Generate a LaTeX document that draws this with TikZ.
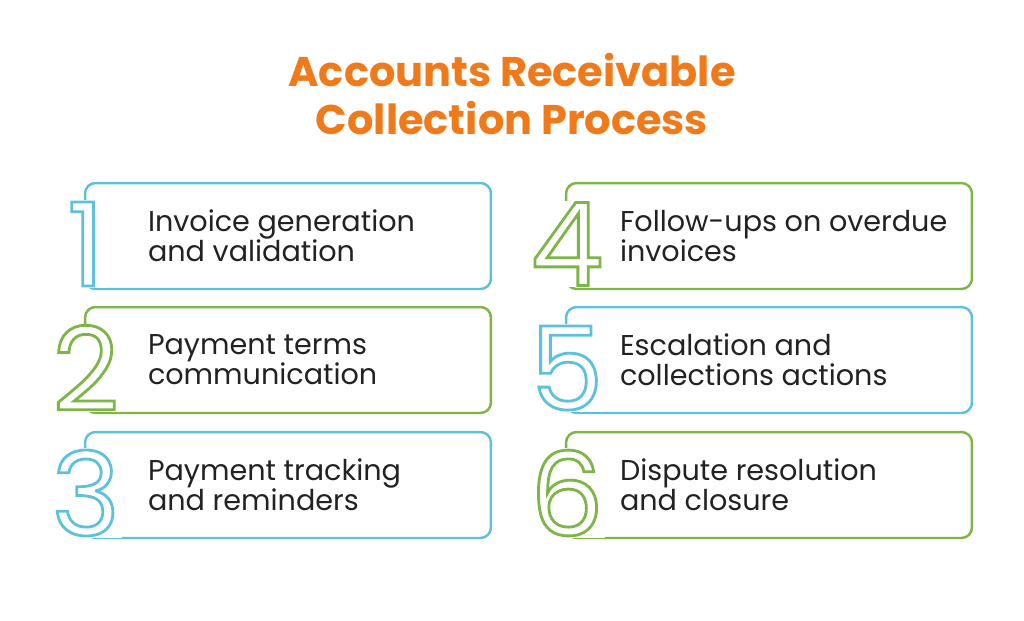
\documentclass[tikz,border=0pt]{standalone}
\usepackage{fontspec}
\setmainfont{Poppins}
\usetikzlibrary{positioning}
\definecolor{arorange}{HTML}{F07A1A}
\definecolor{arblue}{HTML}{5EC1DC}
\definecolor{argreen}{HTML}{7DB547}
\definecolor{artext}{HTML}{222222}
\newcommand{\outl}[1]{\special{pdf:literal 1 Tr 1.6 w}#1\special{pdf:literal 0 Tr}}
\tikzset{%
  card/.style  = {draw, line width=1.4pt, rounded corners=6pt,%
                  minimum width=8.12cm, minimum height=2.12cm},%
  label/.style = {font=\fontsize{16.3}{17.2}\selectfont, text=artext,%
                  align=left, anchor=west},%
  digit/.style = {font=\fontsize{66}{66}\selectfont, anchor=center,%
                  fill=white, inner sep=1pt},%
  heading/.style = {font=\fontsize{23.6}{27}\selectfont\bfseries, text=arorange, align=center}%
}
\begin{document}
\begin{tikzpicture}[x=0.02cm, y=-0.02cm]
  \useasboundingbox (0,0) rectangle (1024,620);
  \node [heading] (title) at (512,94) {Accounts Receivable\\Collection Process};
  % left column
  \node [card, draw=arblue]  (c1) at (288,236) {};
  \node [card, draw=argreen] (c2) at (288,360) {};
  \node [card, draw=arblue]  (c3) at (288,485) {};
  % right column
  \node [card, draw=argreen] (c4) at (769,236) {};
  \node [card, draw=arblue]  (c5) at (769,360) {};
  \node [card, draw=argreen] (c6) at (769,485) {};
  \foreach \c/\n/\col in {c1/1/arblue, c2/2/argreen, c3/3/arblue,
                          c4/4/argreen, c5/5/arblue, c6/6/argreen} {
    \node [digit, text=\col] (d\n) at ([xshift=0.04cm, yshift=-0.16cm]\c.west) {\outl{\n}};
  }
  \node [label] (t1) at ([xshift=1.16cm]c1.west) {Invoice generation\\and validation};
  \node [label] (t2) at ([xshift=1.16cm]c2.west) {Payment terms\\communication};
  \node [label] (t3) at ([xshift=1.16cm]c3.west) {Payment tracking\\and reminders};
  \node [label] (t4) at ([xshift=0.98cm]c4.west) {Follow-ups on overdue\\invoices};
  \node [label] (t5) at ([xshift=0.98cm]c5.west) {Escalation and\\collections actions};
  \node [label] (t6) at ([xshift=0.98cm]c6.west) {Dispute resolution\\and closure};
\end{tikzpicture}
\end{document}
